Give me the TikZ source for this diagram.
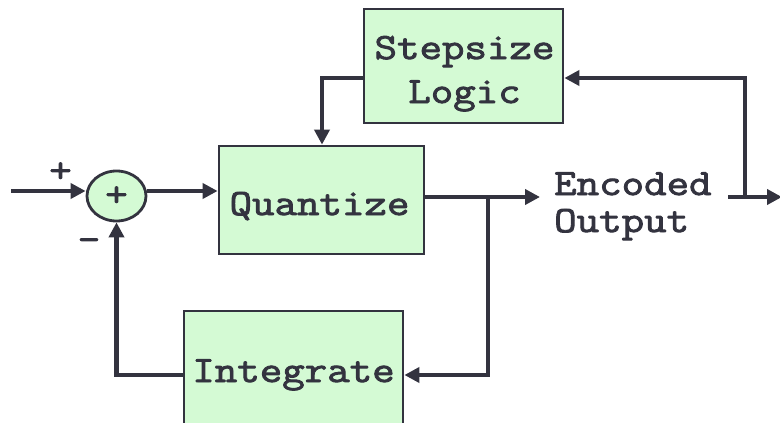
\documentclass[tikz,border=0pt]{standalone}
\usepackage{fontspec}
\usetikzlibrary{arrows.meta,shapes.geometric}
\newfontfamily\slabmono{Latin Modern Mono}[FakeBold=2.4,FakeStretch=1.18]
\definecolor{ink}{HTML}{33333F}
\definecolor{boxfill}{HTML}{D4FAD4}
\newcommand{\blockfont}{\slabmono\fontsize{37}{44}\selectfont}
\tikzset{
  blockbox/.style={draw=ink, fill=boxfill, line width=2.8pt, inner sep=0pt},
  plaintext/.style={font=\blockfont, text=ink, inner sep=0pt, align=center},
  wire/.style={draw=ink, line width=4.5pt, -{Triangle[length=15pt,width=15pt]}},
}
\begin{document}
\begin{tikzpicture}[x=1pt,y=-1pt]
  \clip (0,0) rectangle (780,423);
  \fill[white] (0,0) rectangle (780,423);

  % blocks
  \node[blockbox, minimum width=199pt, minimum height=114pt] (step) at (463.5,66) {};
  \node[blockbox, minimum width=205pt, minimum height=108pt] (quant) at (321.5,200) {};
  \node[blockbox, minimum width=219pt, minimum height=128pt] (integ) at (293.5,375) {};
  \node[blockbox, ellipse, minimum width=59pt, minimum height=50pt] (sum) at (116.5,196) {};

  % block captions, placed on the baseline of their last line
  \node[plaintext, anchor=base] (steptext) at (464.5,103) {Stepsize\\Logic};
  \node[plaintext, anchor=base] (quanttext) at (319.5,215) {Quantize};
  \node[plaintext, anchor=base] (integtext) at (293.5,382) {Integrate};
  \node[plaintext, anchor=base] (sumplus) at (116.5,206) {+};

  % signs at the summing junction
  \node[plaintext, anchor=base] (plus) at (60.5,182) {+};
  \node[plaintext, anchor=base] (minus) at (89,251) {-};

  % output label
  \node[plaintext, anchor=base west, align=left] (enc) at (554,232) {Encoded\\[-7pt]Output};

  % junctions and free ends
  \coordinate (in) at (11,191);
  \coordinate (tap) at (488,197);
  \coordinate (outtip) at (540,197);
  \coordinate (sl) at (322,78);
  \coordinate (ea) at (728,197);
  \coordinate (ej) at (745,197);
  \coordinate (eend) at (782,197);

  % forward path
  \draw[wire] (in) -- (in -| sum.west);
  \draw[wire] (sum.east |- in) -- (in -| quant.west);
  \draw[wire] (quant.east |- tap) -- (outtip);

  % integrator feedback
  \draw[wire] (tap) |- (integ.east);
  \draw[wire] (integ.west) -| (sum.south);

  % step size adaptation
  \draw[wire] (step.west |- sl) -- (sl) -- (sl |- quant.north);
  \draw[wire] (ea) -- (eend);
  \draw[wire] (ej) |- (step.east |- sl);
\end{tikzpicture}
\end{document}
